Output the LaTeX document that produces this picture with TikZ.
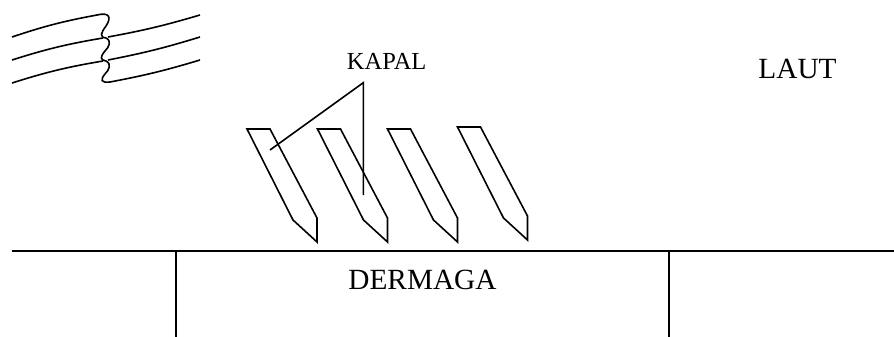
\documentclass[tikz,border=0pt]{standalone}
\usepackage{fontspec}
\setmainfont{Liberation Serif}
\begin{document}
\begin{tikzpicture}[x=1pt,y=-1pt,
  ln/.style={line width=1.6pt, line join=miter},
  bigtxt/.style={anchor=base, inner sep=0pt, font=\fontsize{29.3}{32}\selectfont},
  smalltxt/.style={anchor=base, inner sep=0pt, font=\fontsize{24.5}{27}\selectfont},
  ship/.style={ln}]
\useasboundingbox (0,0) rectangle (894,337);
% wind / current symbol
\draw[ln] (12,37) to[bend left=4] (97,15);
\draw[ln] (12,60) to[bend left=4] (103,38);
\draw[ln] (12,83) to[bend left=4] (103,61);
\draw[ln] (108,37) to[bend right=3] (200,15);
\draw[ln] (108,60) to[bend right=3] (200,37);
\draw[ln] (110,82) to[bend right=3] (200,60);
\draw[ln] (97,15) .. controls (109,12) and (112,17) .. (106,26)
  .. controls (101,33) and (99,37) .. (106,38)
  .. controls (112,41) and (109,47) .. (105,51)
  .. controls (100,57) and (100,60) .. (106,61)
  .. controls (112,64) and (109,70) .. (105,74)
  .. controls (100,80) and (101,83) .. (110,82);
% ships
\foreach \dx/\dy/\n in {0/0/1, 70.5/0/2, 140.5/0/3, 210.5/-2/4}{
  \begin{scope}[shift={(\dx,\dy)}]
    \draw[ship] (247,129) -- (270,129) -- (317,218) -- (317,242) -- (293,220) -- cycle;
    \coordinate (s\n) at (270,150);
  \end{scope}
}
% labels
\node[smalltxt] (kapal) at (386.7,69.3) {KAPAL};
\node[bigtxt] (laut) at (797.5,78.3) {LAUT};
\node[bigtxt] (dermaga) at (422.5,289) {DERMAGA};
% leaders
\coordinate (apex) at (363.3,82.7);
\coordinate (vend) at (363.3,195);
\draw[ln] (s1) -- (apex) -- (vend);
% pier
\coordinate (pl) at (11.7,250.7);
\coordinate (pr) at (894,250.7);
\draw[ln] (pl) -- (pr);
\coordinate (v1t) at (176,250.7);
\coordinate (v1b) at (176,337);
\coordinate (v2t) at (669,250.7);
\coordinate (v2b) at (669,337);
\draw[ln] (v1t) -- (v1b);
\draw[ln] (v2t) -- (v2b);
\end{tikzpicture}
\end{document}
